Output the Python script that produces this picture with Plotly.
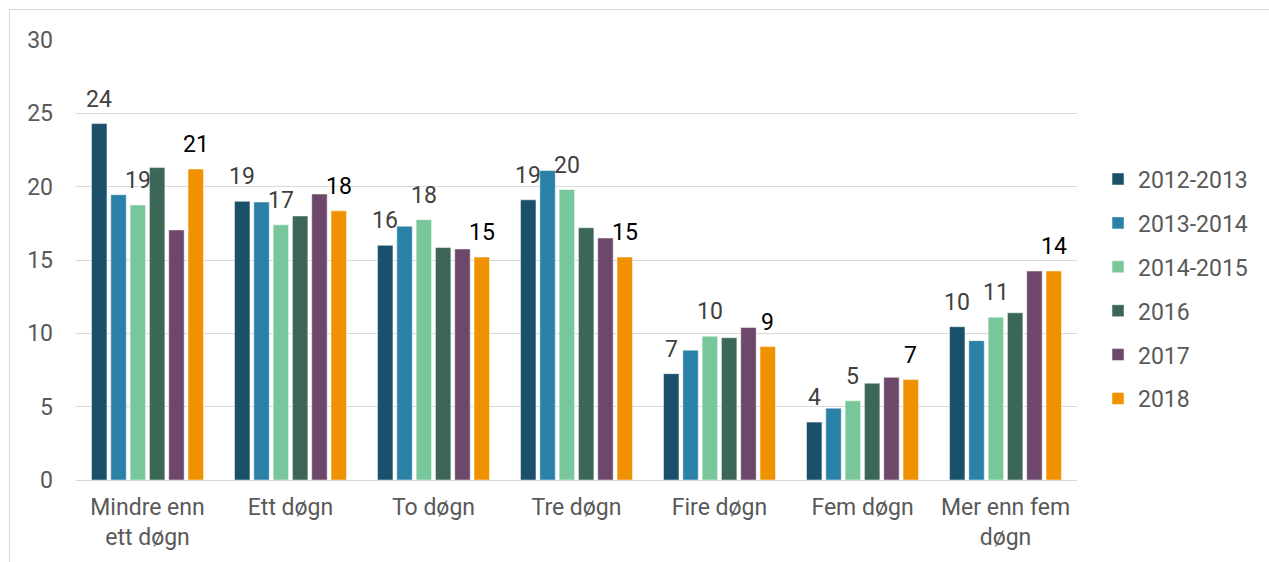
import plotly.graph_objects as go

# Length of stay categories (x axis)
categories = ["Mindre enn<br>ett døgn", "Ett døgn", "To døgn", "Tre døgn",
              "Fire døgn", "Fem døgn", "Mer enn fem<br>døgn"]

# Periods (legend)
periods = ["2012-2013", "2013-2014", "2014-2015", "2016", "2017", "2018"]

# Share per period, one list per category order above
v_2012_2013 = [24.3, 19.0, 16.0, 19.1, 7.25, 3.95, 10.45]
v_2013_2014 = [19.45, 18.95, 17.3, 21.1, 8.85, 4.9, 9.5]
v_2014_2015 = [18.75, 17.4, 17.75, 19.8, 9.8, 5.4, 11.1]
v_2016 = [21.3, 18.0, 15.85, 17.2, 9.7, 6.6, 11.4]
v_2017 = [17.05, 19.5, 15.75, 16.5, 10.4, 7.0, 14.25]
v_2018 = [21.2, 18.35, 15.2, 15.2, 9.1, 6.85, 14.25]

values = [v_2012_2013, v_2013_2014, v_2014_2015, v_2016, v_2017, v_2018]
colors = ["#1b506b", "#2b80a8", "#78c79b", "#3c6656", "#6e486b", "#f09200"]

# Series that carry value labels, and the label colour for each
labelled = {0: "#404040", 2: "#404040", 5: "#000000"}

FONT = "Roboto, Arial, sans-serif"
W, H = 1269, 562
M_L, M_R, M_T, M_B = 76, 192, 40, 82
BARGAP, BARGROUPGAP = 0.19, 0.2

fig = go.Figure()
for i, (name, vals, col) in enumerate(zip(periods, values, colors)):
    fig.add_trace(go.Bar(
        name=name, x=categories, y=vals, legendgroup=name,
        marker=dict(color=col, line=dict(color="rgba(255,255,255,0.6)", width=0.8)),
    ))

# Value labels above the labelled bars, placed at each bar's slot in its group
plot_w = W - M_L - M_R
slot = plot_w / len(categories) * (1 - BARGAP) / len(periods)
for i, col in labelled.items():
    for cat, v in zip(categories, values[i]):
        fig.add_annotation(
            x=cat, y=v, xref="x", yref="y", text=str(round(v)),
            showarrow=False, xanchor="center", yanchor="bottom",
            xshift=(i - (len(periods) - 1) / 2) * slot, yshift=9,
            font=dict(family=FONT, size=23, color=col),
        )

# Outer chart frame
fig.add_shape(type="rect", xref="paper", yref="paper",
              x0=(9.5 - M_L) / plot_w, x1=(W + 20 - M_L) / plot_w,
              y0=-(M_B + 20) / (H - M_T - M_B), y1=1 + (M_T - 9.5) / (H - M_T - M_B),
              line=dict(color="#d9d9d9", width=1), layer="below")

fig.update_layout(
    width=W, height=H,
    margin=dict(l=M_L, r=M_R, t=M_T, b=M_B, autoexpand=False),
    paper_bgcolor="white", plot_bgcolor="white",
    barmode="group", bargap=BARGAP, bargroupgap=BARGROUPGAP,
    font=dict(family=FONT, size=22, color="#595959"),
    showlegend=True,
    legend=dict(x=1.021, y=0.434, xanchor="left", yanchor="middle",
                font=dict(family=FONT, size=23, color="#595959"),
                tracegroupgap=11, bgcolor="rgba(0,0,0,0)"),
    xaxis=dict(showgrid=False, showline=True, linecolor="#d9d9d9", linewidth=1.3,
               ticks="", tickfont=dict(family=FONT, size=23, color="#595959"),
               ticklabelstandoff=6, automargin=False),
    yaxis=dict(range=[0, 30], dtick=5, showgrid=True, gridcolor="#d9d9d9", gridwidth=1.3,
               zeroline=False, showline=False, ticks="",
               tickfont=dict(family=FONT, size=23, color="#595959"),
               ticklabelstandoff=22, automargin=False),
)

fig.write_html("out.html")
